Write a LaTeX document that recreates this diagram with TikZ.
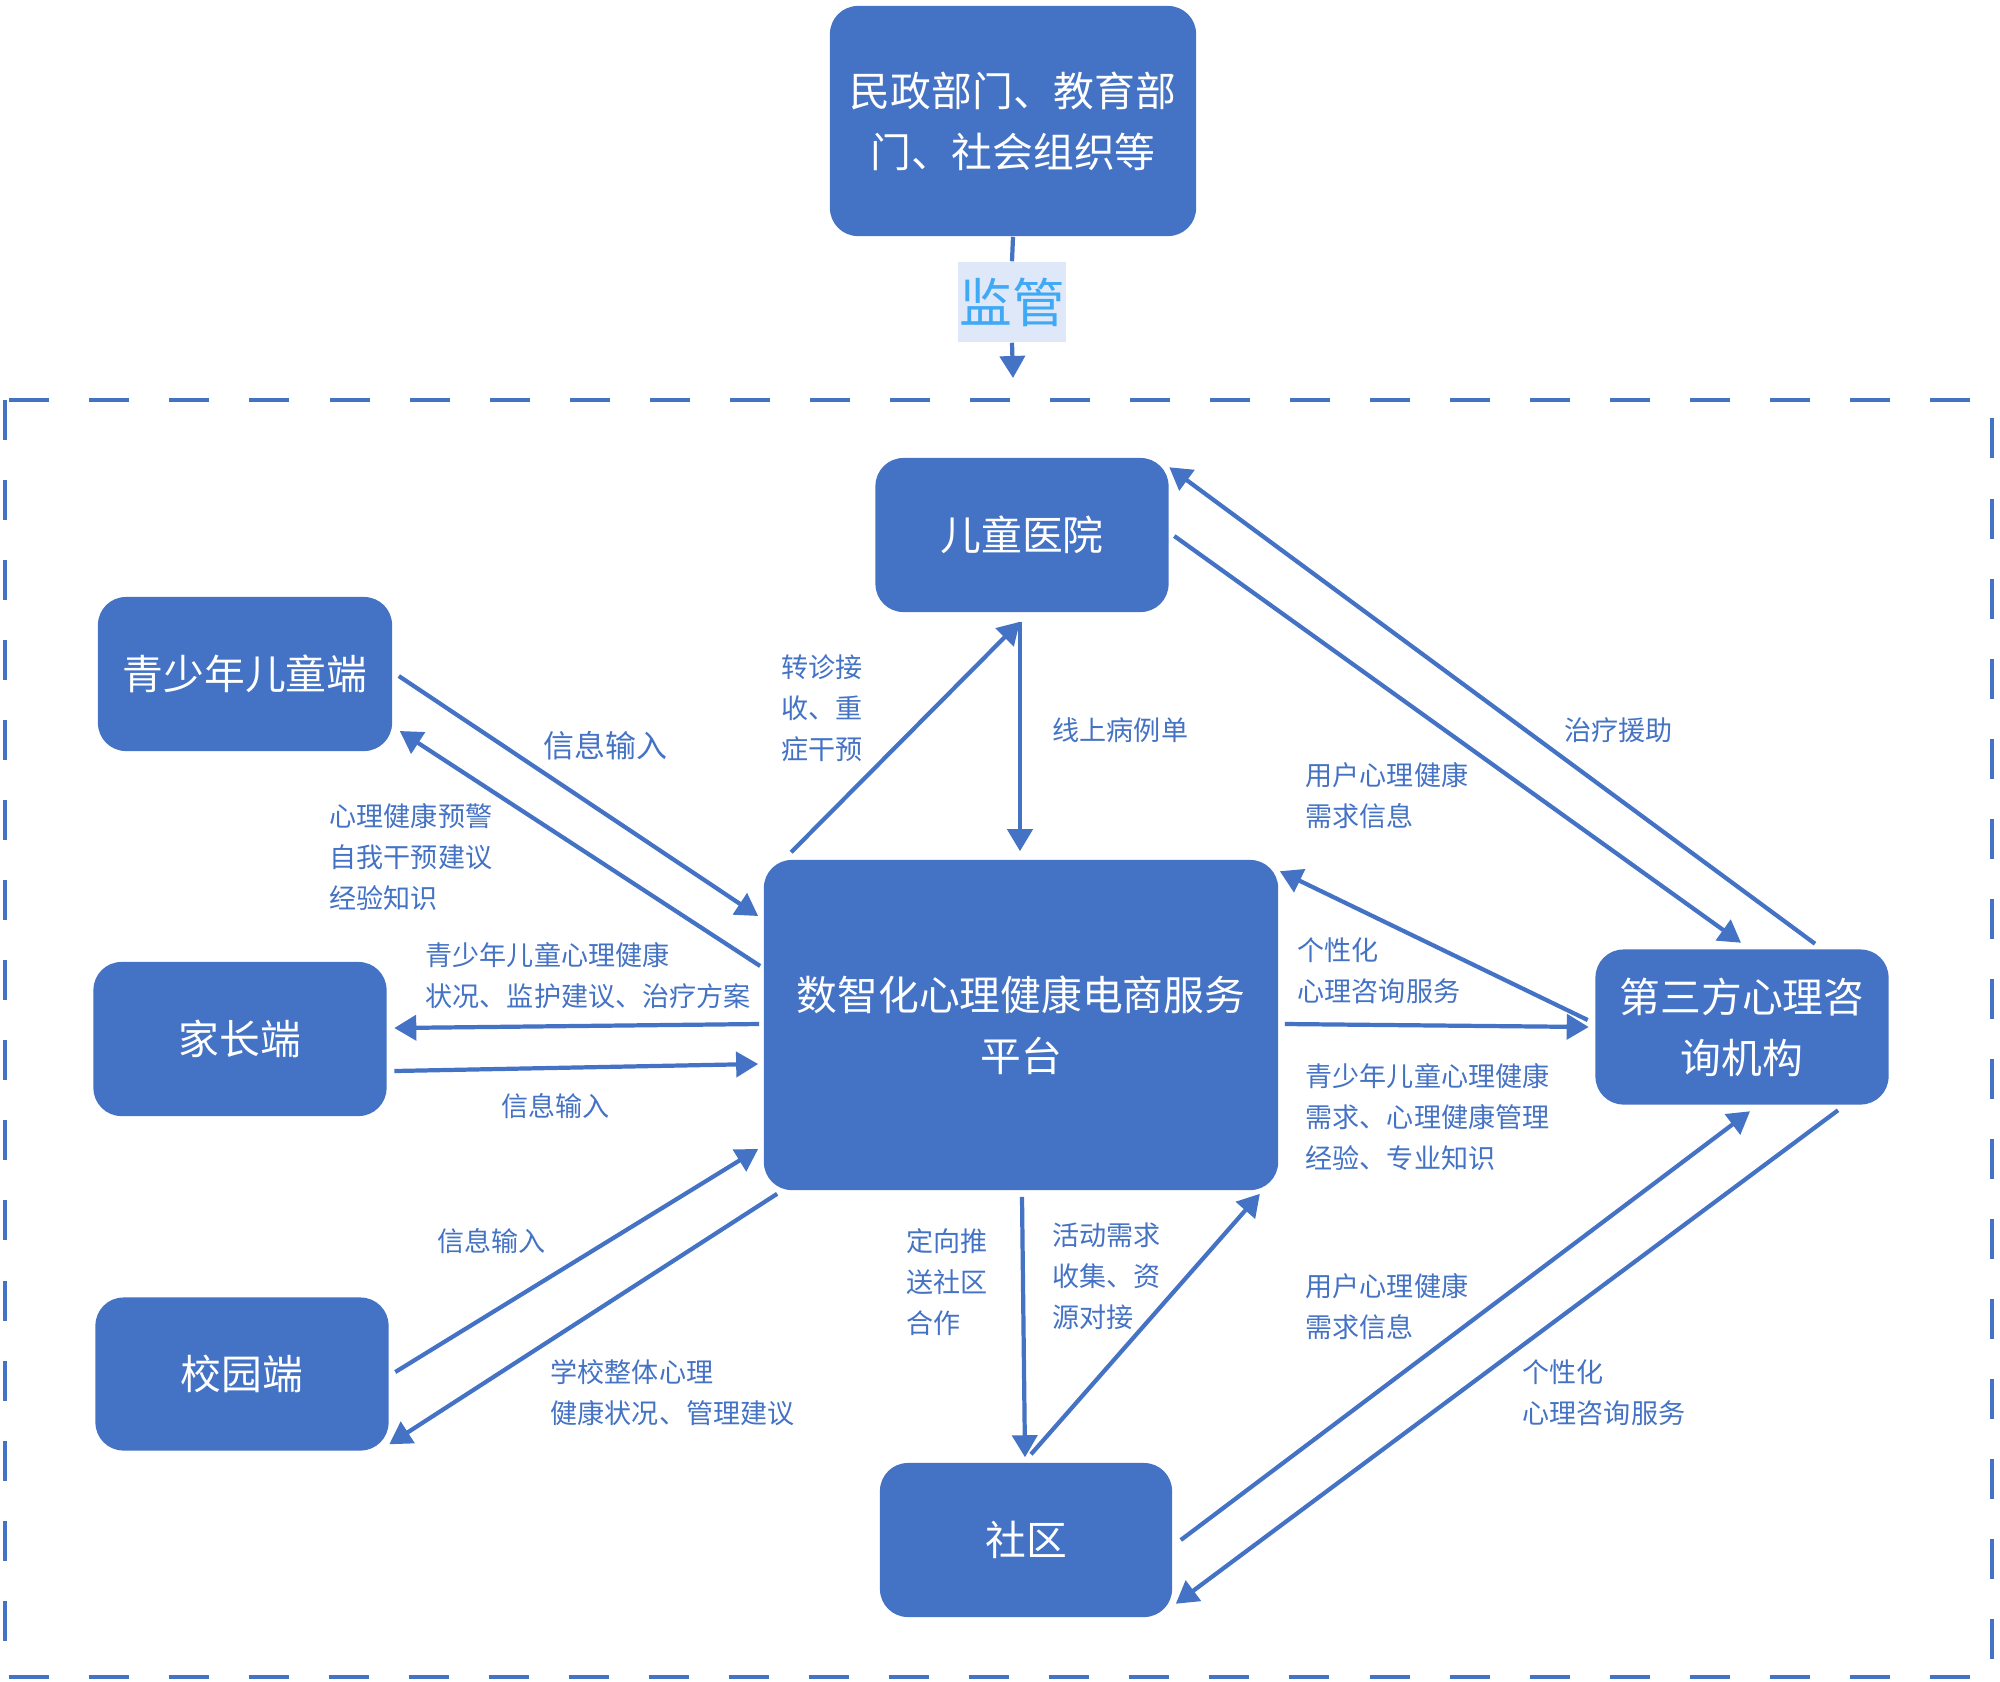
\documentclass[tikz,border=0pt]{standalone}
\usepackage{fontspec}
\setmainfont{Noto Sans CJK SC}
\usetikzlibrary{arrows.meta, positioning}
\definecolor{boxblue}{HTML}{4472C4}
\definecolor{supblue}{HTML}{3FA9F5}
\definecolor{supback}{HTML}{DEE8F8}
\tikzset{
  orgblock/.style={
    rectangle,
    rounded corners=0.28cm,
    fill=boxblue,
    text=white,
    align = center,
    minimum width=2.93cm,
    minimum height=1.54cm,
    font=\fontsize{11.6}{17.4}\selectfont,
  },
  flowarrow/.style={
    line width = 1.2pt,
    -{Triangle[length=0.22cm, width=0.25cm]},
    draw=boxblue,
    },
  note/.style={
    align = left,
    text=boxblue,
    inner sep=0pt,
    anchor=west,
    font=\fontsize{7.7}{11.7}\selectfont,
  },
  zonebox/.style={
    draw=boxblue,
    line width = 1.3pt,
    dash pattern=on 0.4cm off 0.4cm,
    },
}
\begin{document}
\begin{tikzpicture}[x=0.01cm, y=-0.01cm]
    \useasboundingbox (0,0) rectangle (2000,1681);
    \draw [zonebox] (5,400) rectangle (1992,1677);
    \node (gov) [orgblock, minimum width=3.66cm, minimum height=2.30cm] at (1013,121) {民政部门、教育部\\门、社会组织等};
    \node (sup) [fill=supback, text=supblue, minimum width=1.08cm, minimum height=0.8cm, inner sep=0pt,
      font=\fontsize{15}{15}\selectfont] at (1012,302) {监管};
    \coordinate (tip) at (1013,378);
    \node (hosp) [orgblock] at (1022,535) {儿童医院};
    \node (teen) [orgblock, minimum width=2.94cm] at (245,674) {青少年儿童端};
    \node (parent) [orgblock] at (240,1039) {家长端};
    \node (school) [orgblock, minimum height=1.53cm] at (242,1374) {校园端};
    \node (plat) [orgblock, minimum width=5.14cm, minimum height=3.30cm] at (1021,1025) {数智化心理健康电商服务\\平台};
    \node (third) [orgblock, minimum height=1.55cm] at (1742,1027) {第三方心理咨\\询机构};
    \node (comm) [orgblock, minimum width=2.92cm] at (1026,1540) {社区};

    \draw [flowarrow, -] (gov.south) -- (sup.north);
    \draw [flowarrow] (sup.south) -- (tip);

    \draw [flowarrow] ([shift={(6,2)}]teen.east) -- ([shift={(-5,-109)}]plat.west);
    \draw [flowarrow] ([shift={(-3,-59)}]plat.west) -- ([shift={(7,57)}]teen.east);
    \draw [flowarrow] ([shift={(-4,-1)}]plat.west) -- ([shift={(7,-11)}]parent.east);
    \draw [flowarrow] ([shift={(7,32)}]parent.east) -- ([shift={(-5,39)}]plat.west);
    \draw [flowarrow] ([shift={(6,-2)}]school.east) -- ([shift={(-5,124)}]plat.west);
    \draw [flowarrow] ([shift={(14,3)}]plat.south west) -- ([shift={(0,-7)}]school.south east);
    \draw [flowarrow] ([shift={(28,-7)}]plat.north west) -- ([shift={(-2,9)}]hosp.south);
    \draw [flowarrow] ([shift={(-2,9)}]hosp.south) -- ([shift={(-1,-8)}]plat.north);
    \draw [flowarrow] ([shift={(5,1)}]hosp.east) -- ([shift={(-1,-6)}]third.north);
    \draw [flowarrow] ([shift={(73,-5)}]third.north) -- ([shift={(0,10)}]hosp.north east);
    \draw [flowarrow] ([shift={(-7,-7)}]third.west) -- ([shift={(1,12)}]plat.north east);
    \draw [flowarrow] ([shift={(6,-1)}]plat.east) -- ([shift={(-6,0)}]third.west);
    \draw [flowarrow] ([shift={(1,6)}]plat.south) -- ([shift={(-1,-5)}]comm.north);
    \draw [flowarrow] ([shift={(5,-8)}]comm.north) -- ([shift={(-19,3)}]plat.south east);
    \draw [flowarrow] ([shift={(8,0)}]comm.east) -- ([shift={(8,6)}]third.south);
    \draw [flowarrow] ([shift={(96,5)}]third.south) -- ([shift={(3,-14)}]comm.south east);

    \node (teenin) [note, font=\fontsize{8.8}{11.7}\selectfont] at (543,746) {信息输入};
    \node (teenout) [note] at (329,857) {心理健康预警\\自我干预建议\\经验知识};
    \node (parentout) [note] at (425,976) {青少年儿童心理健康\\状况、监护建议、治疗方案};
    \node (parentin) [note] at (501,1106) {信息输入};
    \node (schoolin) [note] at (437,1241) {信息输入};
    \node (schoolout) [note] at (550,1393) {学校整体心理\\健康状况、管理建议};
    \node (referral) [note] at (781,708) {转诊接\\收、重\\症干预};
    \node (records) [note] at (1052,730) {线上病例单};
    \node (aid) [note] at (1564,730) {治疗援助};
    \node (needs) [note] at (1305,796) {用户心理健康\\需求信息};
    \node (consult) [note] at (1297,971) {个性化\\心理咨询服务};
    \node (expertise) [note] at (1305,1117) {青少年儿童心理健康\\需求、心理健康管理\\经验、专业知识};
    \node (push) [note] at (906,1282) {定向推\\送社区\\合作};
    \node (activity) [note] at (1052,1276) {活动需求\\收集、资\\源对接};
    \node (commneeds) [note] at (1305,1307) {用户心理健康\\需求信息};
    \node (commconsult) [note] at (1522,1393) {个性化\\心理咨询服务};
  \end{tikzpicture}
\end{document}
